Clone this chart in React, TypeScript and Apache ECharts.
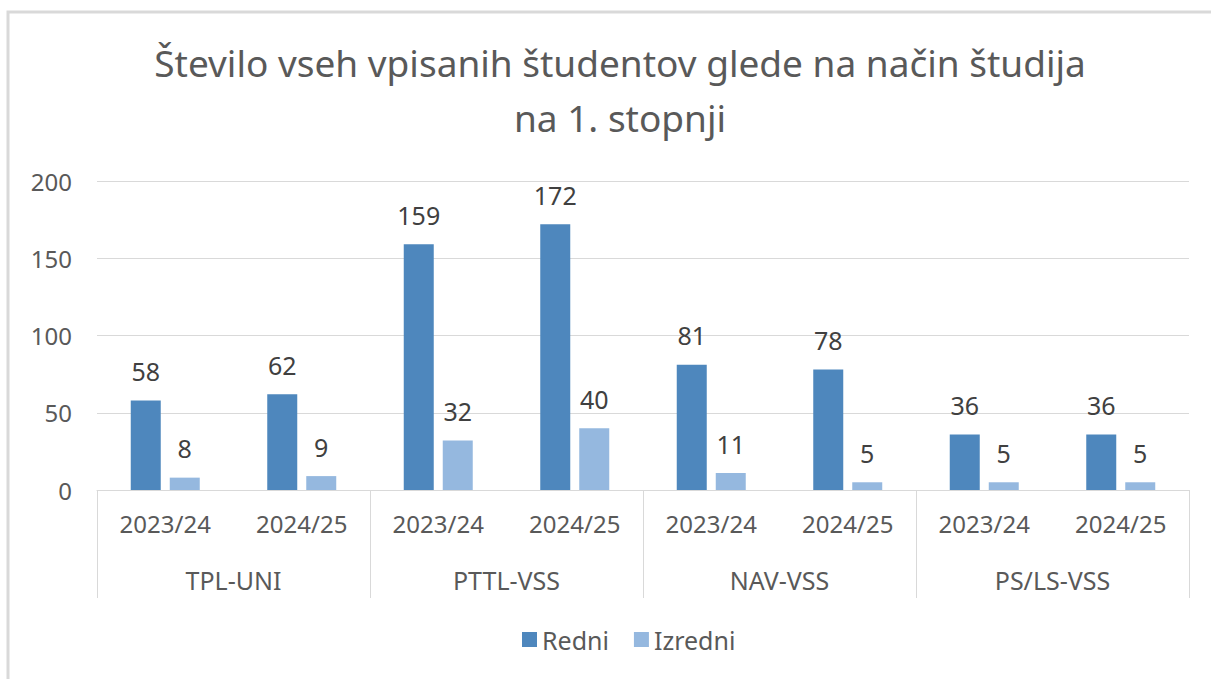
import React, { useEffect, useRef } from "react";
import * as echarts from "echarts";

const years = ["2023/24", "2024/25", "2023/24", "2024/25", "2023/24", "2024/25", "2023/24", "2024/25"];
const groups = ["TPL-UNI", "PTTL-VSS", "NAV-VSS", "PS/LS-VSS"];
const redni = [58, 62, 159, 172, 81, 78, 36, 36];
const izredni = [8, 9, 32, 40, 11, 5, 5, 5];
const yTicks = { min: 0, max: 200, interval: 50 };
const titleText = "Število vseh vpisanih študentov glede na način študija\nna 1. stopnji";

const FONT = "'Noto Sans', sans-serif";

export default function App() {
  const ref = useRef<HTMLDivElement>(null);
  useEffect(() => {
    if (!ref.current) return;
    const chart = echarts.init(ref.current, undefined, { renderer: "svg" });
    chart.setOption({
      animation: false,
      backgroundColor: "#ffffff",
      textStyle: { fontFamily: FONT },
      title: {
        text: titleText,
        left: 615,
        textAlign: "center",
        top: 30,
        textStyle: { fontFamily: FONT, fontSize: 37, fontWeight: "normal", color: "#595959", lineHeight: 55 },
      },
      graphic: [
        {
          type: "rect",
          shape: { x: 8, y: 12, width: 1400, height: 900 },
          style: { fill: "none", stroke: "#d9d9d9", lineWidth: 3 },
          silent: true,
        },
      ],
      legend: {
        bottom: 22,
        left: 517,
        itemWidth: 15,
        itemHeight: 15,
        itemGap: 25,
        icon: "rect",
        textStyle: { fontFamily: FONT, fontSize: 25, color: "#595959" },
        data: ["Redni", "Izredni"],
      },
      grid: { left: 97, right: 22, top: 181, bottom: 189, containLabel: false },
      xAxis: [
        {
          type: "category",
          data: years,
          axisLine: { lineStyle: { color: "#d9d9d9", width: 1 } },
          axisTick: { show: false },
          axisLabel: { color: "#595959", fontSize: 24, fontFamily: FONT, margin: 21, interval: 0 },
        },
        {
          type: "category",
          data: groups,
          position: "bottom",
          axisLine: { show: false },
          axisTick: { show: true, length: 108, interval: 0, lineStyle: { color: "#d9d9d9", width: 1 } },
          axisLabel: { color: "#595959", fontSize: 25, fontFamily: FONT, margin: 77, interval: 0 },
        },
      ],
      yAxis: {
        type: "value",
        min: yTicks.min,
        max: yTicks.max,
        interval: yTicks.interval,
        axisLine: { show: false },
        axisTick: { show: false },
        splitLine: { lineStyle: { color: "#d9d9d9", width: 1 } },
        axisLabel: { color: "#595959", fontSize: 24, fontFamily: FONT, margin: 25 },
      },
      series: [
        {
          name: "Redni",
          type: "bar",
          data: redni,
          barWidth: 30,
          barGap: "30%",
          itemStyle: { color: "#4e87bd" },
          label: { show: true, position: "top", distance: 17, color: "#404040", fontSize: 25, fontFamily: FONT },
        },
        {
          name: "Izredni",
          type: "bar",
          data: izredni,
          barWidth: 30,
          barGap: "30%",
          itemStyle: { color: "#95b8df" },
          label: { show: true, position: "top", distance: 17, color: "#404040", fontSize: 25, fontFamily: FONT },
        },
      ],
    });
    return () => chart.dispose();
  }, []);
  return (
    <div style={{ position: "fixed", left: 0, top: 0, width: 1211, height: 679, overflow: "hidden" }}>
      <div ref={ref} style={{ width: 1211, height: 679 }} />
    </div>
  );
}
